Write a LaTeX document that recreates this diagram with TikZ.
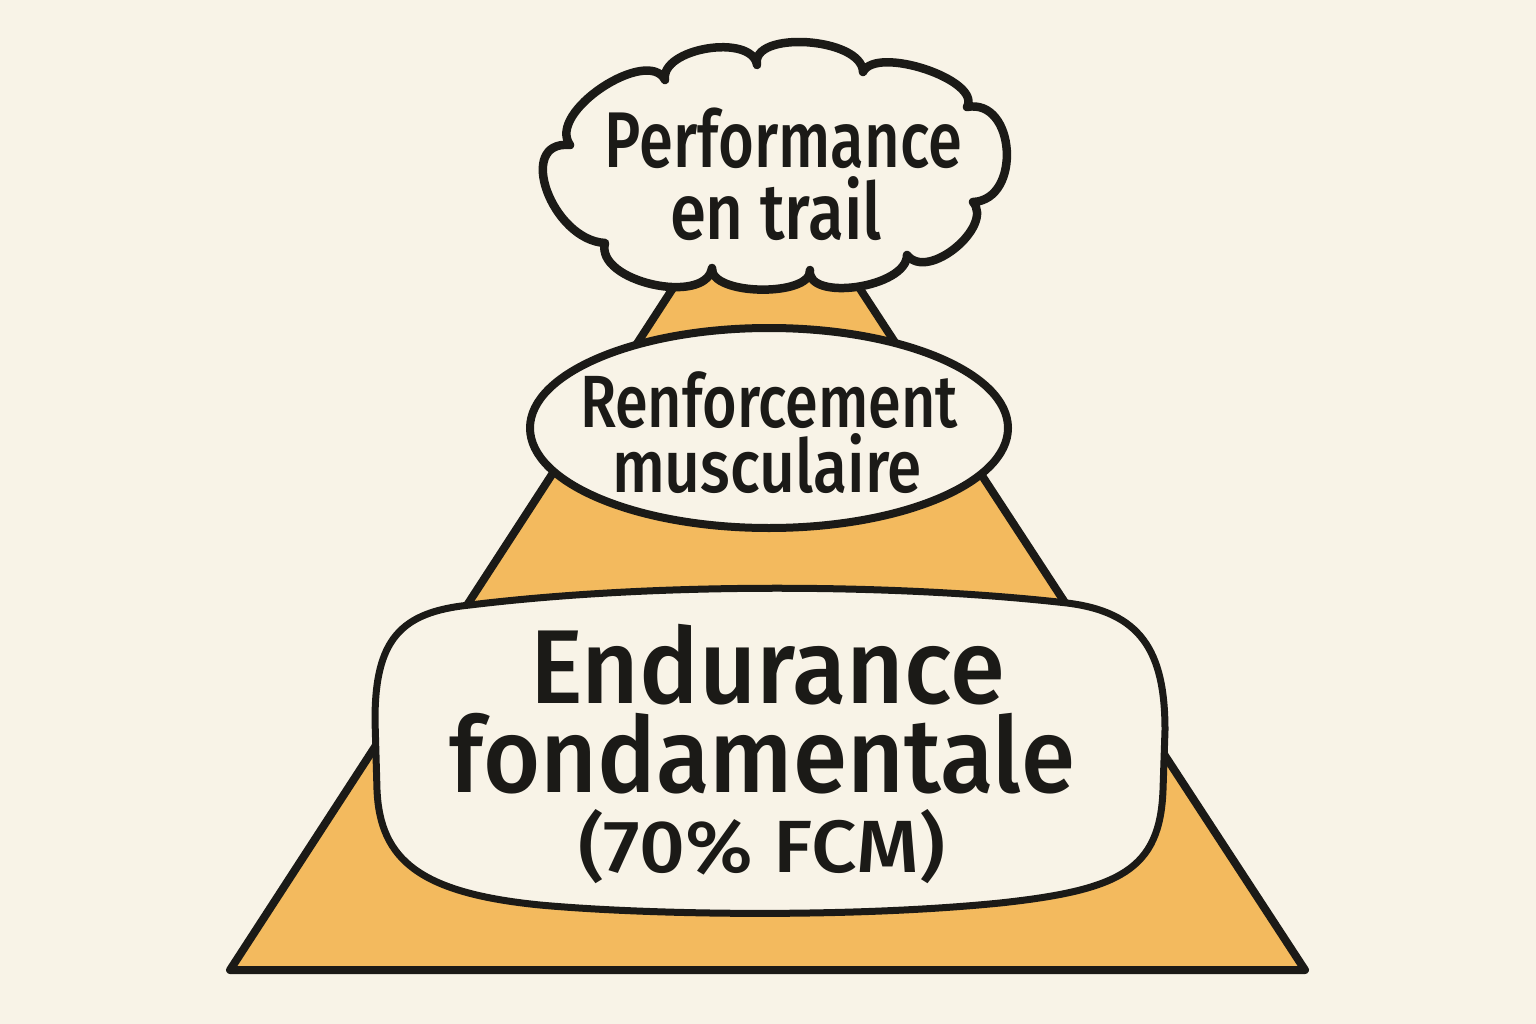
\documentclass[tikz,border=0pt]{standalone}
\usepackage{fontspec}
\usepackage{graphicx}
\newfontfamily\labfont{Fira Sans Medium}
\newfontfamily\bigfont{Fira Sans Medium}
\definecolor{bgcol}{HTML}{F8F3E7}
\definecolor{inkcol}{HTML}{1B1A17}
\definecolor{orangecol}{HTML}{F3BA5E}
\tikzset{
  shapeline/.style={draw=inkcol, line join=round, line cap=round},
  lab/.style={anchor=base, inner sep=0pt, text=inkcol},
}
\newcommand{\fitline}[3]{\resizebox{#1pt}{\height}{\labfont\fontsize{#2}{#2}\selectfont #3}}
\newcommand{\fitbig}[3]{\resizebox{#1pt}{\height}{\bigfont\fontsize{#2}{#2}\selectfont #3}}
\begin{document}
\begin{tikzpicture}[x=1pt,y=-1pt]
\useasboundingbox (0,0) rectangle (1536,1024);
\fill[bgcol] (0,0) rectangle (1536,1024);
% pyramid
\coordinate (apex) at (766,145);
\coordinate (bl) at (230,970);
\coordinate (br) at (1305,970);
\filldraw[shapeline, fill=orangecol, line width=8pt] (apex) -- (br) -- (bl) -- cycle;
% middle ellipse
\filldraw[shapeline, fill=bgcol, line width=8pt] (769,428) ellipse [x radius=239, y radius=100];
% cloud
\filldraw[shapeline, fill=bgcol, line width=8.5pt]
  (665,80) .. controls (660,48) and (752,33) .. (757,65)
  .. controls (750,30) and (862,37) .. (863,72)
  .. controls (876,45) and (982,80) .. (967,107)
  .. controls (1016,98) and (1022,200) .. (973,202)
  .. controls (994,226) and (928,282) .. (907,255)
  .. controls (907,288) and (806,302) .. (810,270)
  .. controls (812,297) and (710,296) .. (712,268)
  .. controls (706,306) and (595,282) .. (605,243)
  .. controls (552,240) and (515,140) .. (570,145)
  .. controls (546,112) and (648,46) .. (665,80) -- cycle;
% bottom rounded box
\filldraw[shapeline, fill=bgcol, line width=7pt]
  (470,605) .. controls (650,583) and (890,583) .. (1067,603)
  .. controls (1140,612) and (1165,650) .. (1165,730)
  -- (1163,790)
  .. controls (1160,870) and (1120,890) .. (1000,903)
  .. controls (850,918) and (650,915) .. (540,905)
  .. controls (420,893) and (380,860) .. (377,790)
  -- (375,720)
  .. controls (375,640) and (400,612) .. (470,605) -- cycle;
% labels
\node[lab] (perf) at (783.5,168) {\fitline{357}{79}{Performance}};
\node[lab] (trail) at (776,240) {\fitline{212}{79}{en trail}};
\node[lab] (renf) at (769,427) {\fitline{378}{74}{Renforcement}};
\node[lab] (musc) at (767,492) {\fitline{310}{74}{musculaire}};
\node[lab] (endu) at (767.5,703) {\fitbig{475}{105}{Endurance}};
\node[lab] (fond) at (762.5,792) {\fitbig{625}{105}{fondamentale}};
\node[lab] (fcm) at (761.5,872) {\fitline{367}{74}{(70\% FCM)}};
\end{tikzpicture}
\end{document}
